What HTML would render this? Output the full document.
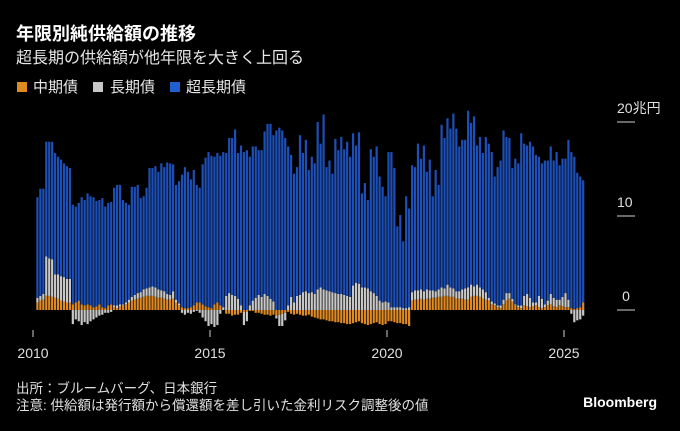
<!DOCTYPE html>
<html><head><meta charset="utf-8">
<style>
html,body{margin:0;padding:0;background:#000;}
body{width:680px;height:426px;overflow:hidden;font-family:"Liberation Sans","Noto Sans CJK JP",sans-serif;color:#fff;}
svg text{font-family:"Liberation Sans","Noto Sans CJK JP",sans-serif;}
</style></head>
<body>
<svg id="chart" width="680" height="426" viewBox="0 0 680 426" xmlns="http://www.w3.org/2000/svg">
<rect x="0" y="0" width="680" height="426" fill="#000"/>
<text x="16" y="40" font-size="18" font-weight="bold" fill="#fff">年限別純供給額の推移</text>
<text x="16" y="63" font-size="16" fill="#e6e6e6">超長期の供給額が他年限を大きく上回る</text>
<g>
 <g><rect x="17" y="82" width="10" height="10" fill="#e08a22"/><text x="33" y="92" font-size="15" fill="#e6e6e6">中期債</text></g>
 <g><rect x="93" y="82" width="10" height="10" fill="#c8c8c8"/><text x="110" y="92" font-size="15" fill="#e6e6e6">長期債</text></g>
 <g><rect x="170" y="82" width="10" height="10" fill="#1f5fd0"/><text x="186" y="92" font-size="15" fill="#e6e6e6">超長期債</text></g>
</g>
<g id="bars"></g>
<g id="yaxis"></g>
<g id="xaxis"></g>
<text x="16" y="393" font-size="13.5" fill="#e0e0e0">出所：ブルームバーグ、日本銀行</text>
<text x="16" y="410" font-size="13.5" fill="#e0e0e0">注意: 供給額は発行額から償還額を差し引いた金利リスク調整後の値</text>
<text x="657" y="407" font-size="14" font-weight="bold" fill="#fff" text-anchor="end">Bloomberg</text>
</svg>
<script>
const mid = [
0.8,1.0,1.1,1.5,1.5,1.4,1.3,1.2,1.0,0.9,0.8,0.8,
0.6,0.8,1.0,0.6,0.5,0.6,0.5,0.3,0.4,0.6,0.3,0.2,
0.5,0.6,0.3,0.2,0.4,0.5,0.6,0.8,1.0,1.1,1.2,1.3,
1.4,1.5,1.5,1.5,1.4,1.3,1.3,1.2,1.1,1.1,1.2,0.8,
0.5,0.3,0.2,0.2,0.3,0.5,0.8,0.8,0.6,0.4,0.3,0.2,
0.6,0.8,0.5,0,-0.4,-0.4,-0.6,-0.5,-0.5,-0.3,-0.2,-0.2,
-0.1,-0.1,-0.3,-0.3,-0.4,-0.5,-0.5,-0.6,-0.5,-0.6,-0.5,-0.4,
-0.3,-0.2,-0.4,-0.5,-0.4,-0.5,-0.6,-0.6,-0.5,-0.7,-0.8,-0.9,
-1.0,-1.0,-1.1,-1.2,-1.2,-1.3,-1.3,-1.4,-1.4,-1.5,-1.5,-1.4,
-1.3,-1.2,-1.4,-1.5,-1.6,-1.5,-1.4,-1.3,-1.5,-1.6,-1.5,-1.2,
-1.2,-1.3,-1.4,-1.4,-1.5,-1.5,-1.7,1.0,1.1,1.1,1.2,1.1,
1.2,1.2,1.3,1.3,1.4,1.4,1.5,1.5,1.4,1.4,1.2,1.2,
1.2,1.1,1.1,1.4,1.5,1.5,1.4,1.2,1.1,1.0,0.6,0.5,
0.3,0.2,0.6,1.0,1.2,0.9,0.5,0.3,0.2,0.5,0.4,0.3,
0.4,0.5,0.3,0.2,0.3,0.5,0.6,0.4,0.3,0.5,0.4,0.3,
0.3,0.2,0.1,0.2,0.3,0.8];
const longBond = [
0.5,0.5,0.6,4.2,4.0,4.0,2.5,2.6,2.6,2.6,2.5,2.5,
-1.5,-1.0,-1.2,-1.6,-1.3,-1.5,-1.2,-1.0,-0.8,-0.6,-0.5,-0.3,
-0.3,-0.2,0.2,0.3,0.2,0.1,0.2,0.3,0.4,0.5,0.6,0.6,
0.8,0.8,0.9,1.0,1.0,0.9,0.8,0.8,0.6,0.5,0.8,0.3,
0.2,-0.3,-0.5,-0.3,-0.4,-0.2,-0.1,-0.3,-0.8,-1.2,-1.7,-1.5,
-1.8,-1.6,-0.4,0.3,1.5,1.8,1.6,1.5,1.2,0.5,-1.4,-1.0,
0.5,1.0,1.3,1.6,1.4,1.7,1.5,1.2,0.9,-0.3,-1.2,-1.3,
-0.8,0.5,1.4,0.8,1.5,1.6,1.9,2.0,1.8,1.9,1.7,2.2,
2.4,2.2,2.1,2.0,1.9,1.8,1.7,1.7,1.6,1.5,1.4,2.6,
2.9,2.8,2.4,2.4,2.3,2.0,1.8,1.5,1.0,0.8,0.9,0.8,
0.3,0.3,0.3,0.3,0.2,0.2,0.3,0.9,1.0,1.0,1.0,0.9,
1.0,0.9,0.8,0.7,0.8,1.0,0.8,1.2,1.0,0.9,0.8,0.8,
1.0,1.2,1.3,1.3,1.0,1.2,1.0,1.0,0.8,0.3,0.3,0.2,
0.2,0.3,0.5,0.8,0.6,0.3,0.1,0.2,0.3,1.0,1.3,1.0,
0.4,0.3,1.2,1.0,0.3,0.5,1.1,0.9,0.8,0.6,1.0,1.5,
0.8,-0.4,-1.3,-1.1,-1.0,-0.6];
const superLong = [
10.7,11.4,11.2,12.2,12.4,12.5,12.9,12.5,12.4,12.1,12.0,11.8,
10.6,10.2,10.4,11.4,11.2,11.8,11.6,11.7,11.2,11.1,11.6,10.8,
10.9,10.9,12.5,12.8,12.7,11.1,10.6,10.1,11.7,11.5,11.5,10.0,
9.9,10.7,12.7,12.6,12.9,12.5,13.5,13.2,14.0,14.0,13.5,12.2,
13.0,14.1,15.0,14.5,13.6,14.4,12.5,12.2,14.9,15.8,16.5,16.2,
15.7,15.9,15.9,16.5,15.2,16.5,16.7,17.7,15.5,17.0,16.8,17.0,
15.8,16.4,16.1,15.4,15.6,17.3,18.3,18.6,17.7,19.1,19.4,19.1,
18.3,16.9,15.1,13.7,13.7,17.0,14.8,16.1,13.1,14.4,13.9,17.8,
15.3,18.6,13.1,13.9,12.6,16.4,15.3,16.7,15.5,16.4,14.9,16.2,
14.6,16.1,10.0,11.1,9.4,15.1,14.5,15.9,13.2,12.3,11.2,16.0,
16.5,14.8,8.6,9.8,7.1,11.9,10.5,13.5,13.1,15.6,13.9,15.5,
12.5,13.9,10.0,12.9,11.1,17.3,16.0,17.7,16.9,18.6,17.3,15.4,
15.9,15.8,18.8,17.2,18.1,14.8,16.0,14.5,16.5,16.4,15.9,13.5,
14.7,15.4,18.0,16.6,16.5,13.9,15.5,15.1,18.3,16.2,15.8,16.6,
16.6,15.7,14.8,14.4,15.3,14.9,15.7,14.6,15.7,14.3,14.7,14.3,
17.0,16.6,16.2,14.4,13.9,13.0];
const yTicks = [0,10,20];
const yTickLabels = ["0","10","20兆円"];
const xTickYears = [2010,2015,2020,2025];

const NS = "http://www.w3.org/2000/svg";
const startYear = 2010;
function xScale(monthIndex){ return 33 + (monthIndex + 1.5) * 2.95; }
function yearX(year){ return 33 + (year - startYear) * 12 * 2.95; }
function yScale(v){ return 310 - v * 9.4; }
const barW = 2.2;
const bars = document.getElementById('bars');
function seg(x, v0, v1, color, name){
  const r = document.createElementNS(NS,'rect');
  const ya = yScale(Math.max(v0,v1)), yb = yScale(Math.min(v0,v1));
  r.setAttribute('x', (x - barW/2).toFixed(2));
  r.setAttribute('y', ya.toFixed(2));
  r.setAttribute('width', barW);
  r.setAttribute('height', Math.max(0,(yb-ya)).toFixed(2));
  r.setAttribute('fill', color);
  
  
  bars.appendChild(r);
}
for(let i=0;i<superLong.length;i++){
  const x = xScale(i);
  let pos = 0, neg = 0;
  const o = mid[i], g = longBond[i], b = superLong[i];
  if(o>=0){ seg(x,pos,pos+o,'#e08a22','bar-mid'); pos+=o; } else { seg(x,neg,neg+o,'#e08a22','bar-mid'); neg+=o; }
  if(g>=0){ seg(x,pos,pos+g,'#c8c8c8','bar-long'); pos+=g; } else { seg(x,neg,neg+g,'#c8c8c8','bar-long'); neg+=g; }
  if(b>=0){ seg(x,pos,pos+b,'#1d4fb8','bar-superlong'); pos+=b; } else { seg(x,neg,neg+b,'#1d4fb8','bar-superlong'); neg+=b; }
}
const yaxis = document.getElementById('yaxis');
yTicks.forEach((t,k)=>{
  const l = document.createElementNS(NS,'line');
  l.setAttribute('x1',617); l.setAttribute('x2',635);
  l.setAttribute('y1',yScale(t)); l.setAttribute('y2',yScale(t));
  l.setAttribute('stroke','#cfcfcf'); l.setAttribute('stroke-width','1');
  
  
  yaxis.appendChild(l);
  const tx = document.createElementNS(NS,'text');
  tx.setAttribute('x', t===0 ? 626 : 617);
  tx.setAttribute('text-anchor', t===0 ? 'middle' : 'start');
  tx.setAttribute('y', yScale(t)-9);
  tx.setAttribute('font-size','14');
  tx.setAttribute('fill','#e0e0e0');
  
  
  tx.textContent = yTickLabels[k];
  yaxis.appendChild(tx);
});
const xaxis = document.getElementById('xaxis');
xTickYears.forEach(yr=>{
  const x = yearX(yr);
  const l = document.createElementNS(NS,'line');
  l.setAttribute('x1',x); l.setAttribute('x2',x);
  l.setAttribute('y1',330); l.setAttribute('y2',337);
  l.setAttribute('stroke','#cfcfcf'); l.setAttribute('stroke-width','1');
  
  
  xaxis.appendChild(l);
  const tx = document.createElementNS(NS,'text');
  tx.setAttribute('x', x);
  tx.setAttribute('y', 358);
  tx.setAttribute('text-anchor','middle');
  tx.setAttribute('font-size','14');
  tx.setAttribute('fill','#e0e0e0');
  
  
  tx.textContent = yr;
  xaxis.appendChild(tx);
});
</script>
</body></html>
